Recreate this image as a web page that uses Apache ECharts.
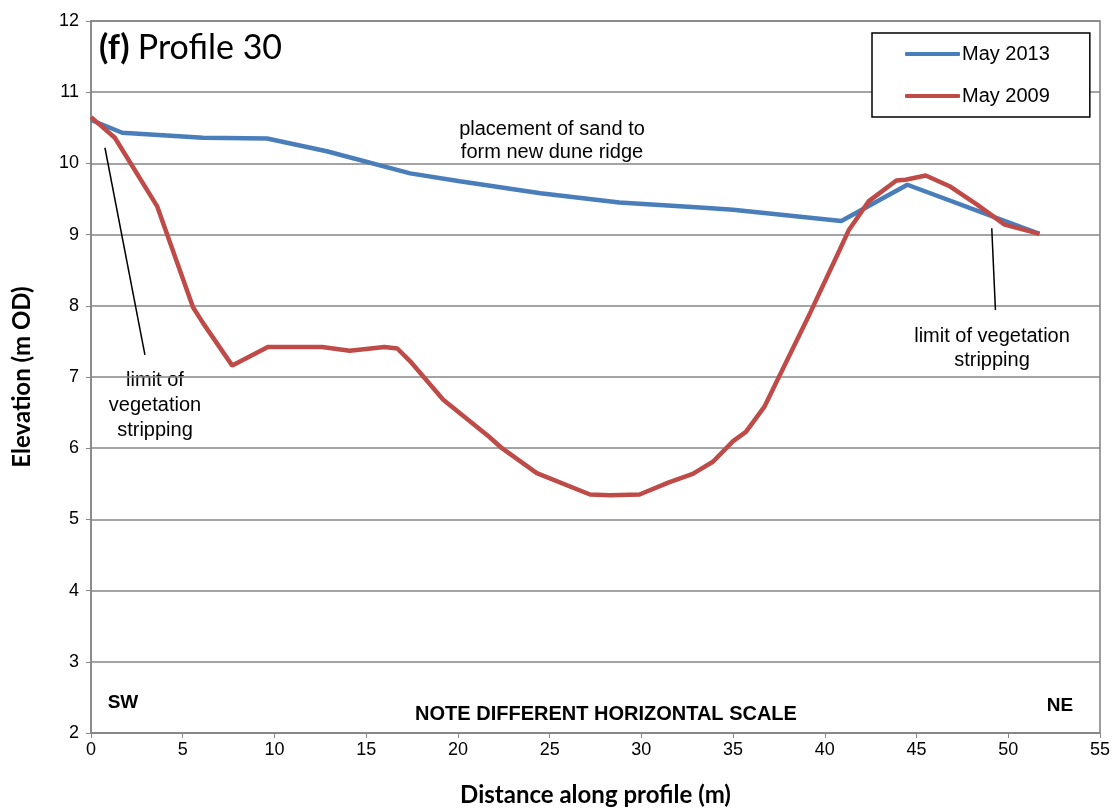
<!DOCTYPE html>
<html>
<head>
<meta charset="utf-8">
<script src="https://cdn.jsdelivr.net/npm/echarts@6/dist/echarts.min.js"></script>
<style>
html,body{margin:0;padding:0;background:#fff;}
#chart{width:1117px;height:811px;}
</style>
</head>
<body>
<div id="chart"></div>
<script>
// Profile 30 elevation surveys: [distance (m), elevation (m OD)]
const may2013 = [
  [0, 10.61], [1.7, 10.43], [6.1, 10.36], [9.6, 10.35], [12.85, 10.17],
  [17.4, 9.86], [20.1, 9.75], [24.5, 9.58], [28.8, 9.45], [33.2, 9.38],
  [35.0, 9.35], [40.9, 9.19], [44.5, 9.70], [51.7, 9.01]
];
const may2009 = [
  [0, 10.65], [1.3, 10.36], [3.6, 9.40], [5.56, 7.98], [6.1, 7.76],
  [7.7, 7.16], [9.64, 7.42], [12.6, 7.42], [14.1, 7.37], [16.0, 7.42],
  [16.7, 7.40], [17.4, 7.22], [19.2, 6.68], [21.7, 6.16], [22.4, 6.0],
  [24.3, 5.65], [27.2, 5.35], [28.3, 5.34], [29.9, 5.35], [31.5, 5.52],
  [32.8, 5.64], [33.9, 5.81], [35.0, 6.10], [35.7, 6.23], [36.7, 6.58],
  [39.2, 7.90], [40.8, 8.78], [41.3, 9.06], [42.4, 9.47], [43.9, 9.76],
  [44.4, 9.77], [45.5, 9.83], [46.8, 9.68], [48.3, 9.42], [49.8, 9.14],
  [51.7, 9.01]
];
// Leader lines for the "limit of vegetation stripping" notes
const leaderSW = [[0.76, 10.22], [2.94, 7.31]];
const leaderNE = [[49.1, 9.09], [49.3, 7.94]];

const xTicks = { min: 0, max: 55, interval: 5 };
const yTicks = { min: 2, max: 12, interval: 1 };

const chart = echarts.init(document.getElementById('chart'), null, { renderer: 'canvas' });
const tickFont = 'Liberation Sans, Arial, sans-serif';
const titleFont = 'Lato, "Open Sans", sans-serif';

function leader(pts) {
  return {
    type: 'line', data: [], silent: true,
    markLine: {
      silent: true, symbol: ['none', 'none'], animation: false,
      lineStyle: { color: '#000', width: 1.5, type: 'solid' },
      label: { show: false },
      data: [[{ coord: pts[0] }, { coord: pts[1] }]]
    }
  };
}

chart.setOption({
  animation: false,
  grid: {
    left: 91, right: 17, top: 21, bottom: 78,
    containLabel: false, outerBoundsMode: 'none',
    show: true, borderColor: '#7f7f7f', borderWidth: 1.5
  },
  xAxis: {
    type: 'value', min: xTicks.min, max: xTicks.max, interval: xTicks.interval,
    name: 'Distance along profile (m)', nameLocation: 'middle', nameGap: 50,
    nameTextStyle: { fontFamily: titleFont, fontWeight: 'bold', fontSize: 24, color: '#000' },
    axisLine: { lineStyle: { color: '#868686', width: 1.5 } },
    axisTick: { show: true, length: 5, lineStyle: { color: '#868686' } },
    axisLabel: { fontFamily: tickFont, fontSize: 18, color: '#000', margin: 8 },
    splitLine: { show: false }
  },
  yAxis: {
    type: 'value', min: yTicks.min, max: yTicks.max, interval: yTicks.interval,
    name: 'Elevation (m OD)', nameLocation: 'middle', nameGap: 57,
    nameTextStyle: { fontFamily: titleFont, fontWeight: 'bold', fontSize: 24, color: '#000' },
    axisLine: { show: true, lineStyle: { color: '#868686', width: 1.5 } },
    axisTick: { show: true, length: 5, lineStyle: { color: '#868686' } },
    axisLabel: { fontFamily: tickFont, fontSize: 18, color: '#000', margin: 12 },
    splitLine: { lineStyle: { color: '#868686', width: 1.5 } }
  },
  legend: {
    left: 872, top: 33, orient: 'vertical',
    itemWidth: 55, itemHeight: 4, itemGap: 22,
    padding: [11, 40, 11, 33],
    borderColor: '#000', borderWidth: 1.5, backgroundColor: '#fff',
    icon: 'roundRect',
    textStyle: { fontFamily: tickFont, fontSize: 20, color: '#000', padding: [0, 0, 0, -3] },
    data: ['May 2013', 'May 2009']
  },
  series: [
    { name: 'May 2013', type: 'line', data: may2013, symbol: 'none', z: 3,
      lineStyle: { color: '#4a7ebb', width: 4.5 }, itemStyle: { color: '#4a7ebb' } },
    { name: 'May 2009', type: 'line', data: may2009, symbol: 'none', z: 4,
      lineStyle: { color: '#be4b48', width: 4.5 }, itemStyle: { color: '#be4b48' } },
    leader(leaderSW),
    leader(leaderNE)
  ],
  graphic: [
    { type: 'text', left: 99, top: 31, style: {
        rich: {
          b: { fontFamily: titleFont, fontWeight: 'bold', fontSize: 34, fill: '#000' },
          n: { fontFamily: titleFont, fontSize: 34, fill: '#000', padding: [0, 0, 0, 5] }
        },
        text: '{b|(f)} {n|Profile 30}'
      } },
    { type: 'text', x: 552, y: 141, style: {
        text: 'placement of sand to\nform new dune ridge', align: 'center', verticalAlign: 'middle',
        fontFamily: tickFont, fontSize: 20, lineHeight: 23, fill: '#000' } },
    { type: 'text', x: 155, y: 405, style: {
        text: 'limit of\nvegetation\nstripping', align: 'center', verticalAlign: 'middle',
        fontFamily: tickFont, fontSize: 20, lineHeight: 25, fill: '#000' } },
    { type: 'text', x: 992, y: 348, style: {
        text: 'limit of vegetation\nstripping', align: 'center', verticalAlign: 'middle',
        fontFamily: tickFont, fontSize: 20, lineHeight: 24, fill: '#000' } },
    { type: 'text', x: 123, y: 703, style: {
        text: 'SW', align: 'center', verticalAlign: 'middle',
        fontFamily: tickFont, fontWeight: 'bold', fontSize: 19, fill: '#000' } },
    { type: 'text', x: 1060, y: 706, style: {
        text: 'NE', align: 'center', verticalAlign: 'middle',
        fontFamily: tickFont, fontWeight: 'bold', fontSize: 19, fill: '#000' } },
    { type: 'text', x: 606, y: 714, style: {
        text: 'NOTE DIFFERENT HORIZONTAL SCALE', align: 'center', verticalAlign: 'middle',
        fontFamily: tickFont, fontWeight: 'bold', fontSize: 20, fill: '#000' } }
  ]
});
</script>
</body>
</html>
